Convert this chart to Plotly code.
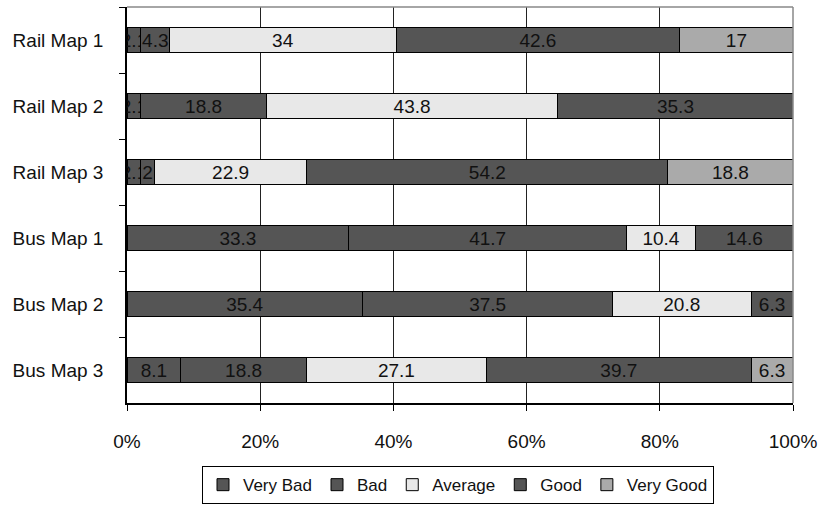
import plotly.graph_objects as go

maps = ["Rail Map 1", "Rail Map 2", "Rail Map 3", "Bus Map 1", "Bus Map 2", "Bus Map 3"]
very_bad = [2.1, 2.1, 2.1, 33.3, 35.4, 8.1]
bad = [4.3, 18.8, 2, 41.7, 37.5, 18.8]
average = [34, 43.8, 22.9, 10.4, 20.8, 27.1]
good = [42.6, 35.3, 54.2, 14.6, 6.3, 39.7]
very_good = [17, None, 18.8, None, None, 6.3]
x_ticks = [0, 20, 40, 60, 80, 100]
x_tick_labels = ["0%", "20%", "40%", "60%", "80%", "100%"]

series = [
    ("Very Bad", very_bad, "#555555"),
    ("Bad", bad, "#555555"),
    ("Average", average, "#e8e8e8"),
    ("Good", good, "#555555"),
    ("Very Good", very_good, "#aaaaaa"),
]

FONT = "Liberation Sans, Arial, sans-serif"

fig = go.Figure()
for name, vals, col in series:
    fig.add_trace(go.Bar(
        y=maps, x=vals, name=name, orientation="h",
        marker=dict(color=col, line=dict(color="#000000", width=1)),
        text=[("" if v is None else f"{v:g}") for v in vals],
        textposition="inside", insidetextanchor="middle",
        constraintext="none", textangle=0,
        textfont=dict(family=FONT, size=19, color="#111111"),
        width=0.38,
    ))

fig.update_layout(
    barmode="stack",
    width=824, height=505,
    margin=dict(l=127, r=31, t=7, b=102, autoexpand=False),
    paper_bgcolor="white", plot_bgcolor="white",
    font=dict(family=FONT, size=19, color="#111111"),
    showlegend=True,
    legend=dict(
        orientation="h", x=0.497, xanchor="center",
        yref="container", y=0.077, yanchor="top",
        bordercolor="#000000", borderwidth=1,
        font=dict(family=FONT, size=17, color="#111111"),
        traceorder="normal",
        itemwidth=30,
    ),
    xaxis=dict(
        range=[0, 100], tickmode="array", tickvals=x_ticks, ticktext=x_tick_labels,
        showgrid=True, gridcolor="#222222", gridwidth=1,
        showline=True, linecolor="#000000", linewidth=1.5,
        ticks="outside", ticklen=6, tickcolor="#000000",
        ticklabelstandoff=14, zeroline=False,
        tickfont=dict(family=FONT, size=19, color="#111111"),
    ),
    yaxis=dict(
        categoryorder="array", categoryarray=maps, autorange="reversed",
        showline=True, linecolor="#000000", linewidth=1.5,
        ticks="outside", ticklen=6, tickcolor="#000000", tickson="boundaries",
        showgrid=False, ticklabelstandoff=18,
        tickfont=dict(family=FONT, size=19, color="#111111"),
    ),
    shapes=[
        dict(type="line", xref="paper", yref="paper", x0=0, x1=1, y0=1, y1=1,
             line=dict(color="#888888", width=1.5), layer="above"),
        dict(type="line", xref="paper", yref="paper", x0=1, x1=1, y0=0, y1=1,
             line=dict(color="#888888", width=1.5), layer="above"),
    ],
)

fig.write_html("out.html", config={"displayModeBar": False},
               post_script="document.body.style.margin='0';")
